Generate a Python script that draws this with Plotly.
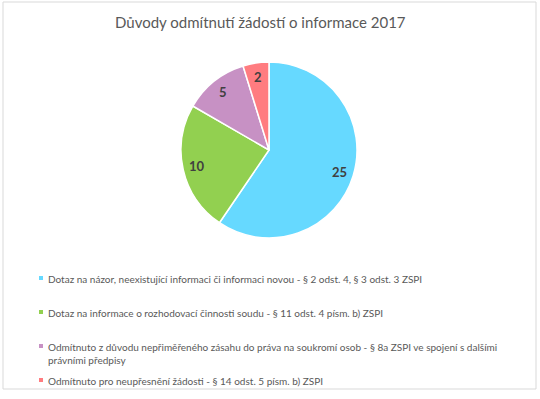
import math
import plotly.graph_objects as go

labels = [
    "Dotaz na názor, neexistující informaci či informaci novou - § 2 odst. 4, § 3 odst. 3 ZSPI",
    "Dotaz na informace o rozhodovací činnosti soudu - § 11 odst. 4 písm. b) ZSPI",
    "Odmítnuto z důvodu nepřiměřeného zásahu do práva na soukromí osob - § 8a ZSPI ve spojení s dalšími<br>právními předpisy",
    "Odmítnuto pro neupřesnění žádosti - § 14 odst. 5 písm. b) ZSPI",
]
values = [25, 10, 5, 2]
colors = ["#66D9FF", "#92D050", "#C791C4", "#FF7C80"]
title = "Důvody odmítnutí žádostí o informace 2017"

W, H = 540, 399
FONT = "Lato, Carlito, Calibri, sans-serif"

# pie placement (pixels)
CX, CY, R = 269, 150, 88

fig = go.Figure()
fig.add_trace(go.Pie(
    labels=[l.replace("<br>", " ") for l in labels],
    values=values,
    marker=dict(colors=colors, line=dict(color="white", width=1.5)),
    sort=False,
    direction="clockwise",
    rotation=0,
    textinfo="none",
    showlegend=False,
    hoverinfo="label+value",
    domain=dict(x=[(CX - R) / W, (CX + R) / W], y=[1 - (CY + R) / H, 1 - (CY - R) / H]),
))

shapes = [dict(type="rect", xref="paper", yref="paper",
               x0=3 / W, x1=536 / W, y0=1 - 389 / H, y1=1 - 2 / H,
               line=dict(color="#D9D9D9", width=1), fillcolor="rgba(0,0,0,0)")]
annotations = [dict(text=title, x=260 / W, y=1 - 22 / H, xref="paper", yref="paper",
                    xanchor="center", yanchor="middle", showarrow=False,
                    font=dict(family=FONT, size=15, color="#595959"))]

# data labels at the mid-angle of each slice (Excel-style, ~0.84 R)
total = sum(values)
cum = 0
for v in values:
    mid = (cum + v / 2) / total * 2 * math.pi
    cum += v
    px = CX + 0.84 * R * math.sin(mid)
    py = CY - 0.84 * R * math.cos(mid)
    annotations.append(dict(text=str(v), x=px / W, y=1 - py / H, xref="paper", yref="paper",
                            xanchor="center", yanchor="middle", showarrow=False,
                            font=dict(family=FONT, size=13, color="#404040", weight="bold")))

# legend rows (pixel y of first text line)
row_y = [278, 312, 346, 380]
line_h = 13.5
for lab, col, y in zip(labels, colors, row_y):
    shapes.append(dict(type="rect", xref="paper", yref="paper",
                       x0=39 / W, x1=43 / W, y0=1 - (y + 2) / H, y1=1 - (y - 2) / H,
                       line=dict(width=0), fillcolor=col))
    annotations.append(dict(text=lab, x=46 / W, y=1 - (y - line_h / 2 - 0.5) / H,
                            xref="paper", yref="paper", xanchor="left", yanchor="top",
                            align="left", showarrow=False,
                            font=dict(family=FONT, size=10, color="#595959")))

fig.update_layout(
    width=W, height=H,
    margin=dict(l=0, r=0, t=0, b=0),
    paper_bgcolor="white", plot_bgcolor="white",
    shapes=shapes, annotations=annotations,
)
fig.write_html("out.html", config={"displayModeBar": False},
               post_script="document.body.style.margin='0';document.body.style.overflow='hidden';")
